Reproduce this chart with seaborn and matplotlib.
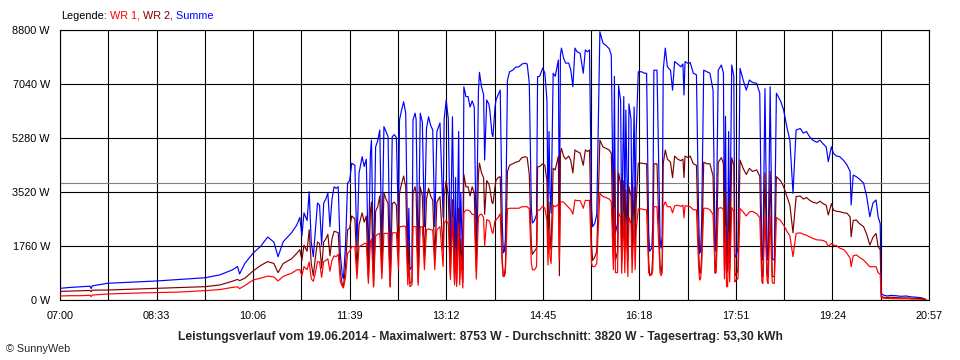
import numpy as np
import pandas as pd
import seaborn as sns
import matplotlib.pyplot as plt

# Minuten seit 07:00 und Leistung in W
minuten = [
    0, 10, 20, 29, 30, 31, 46, 67, 93, 116, 140, 154, 166, 171, 173, 178, 186, 193, 200, 206, 210, 215, 223, 228,
    231, 233, 235, 238, 240, 242, 244, 246, 248, 250, 252, 254, 256, 258, 260, 262, 264, 266, 268, 270, 272, 273,
    275, 277, 279, 281, 284, 286, 288, 291, 293, 295, 297, 299, 300, 302, 304, 306, 308, 310, 312, 314, 316, 318,
    320, 322, 324, 326, 327, 329, 331, 333, 335, 336, 337, 339, 340, 342, 343, 345, 347, 349, 351, 353, 355, 357,
    359, 361, 363, 366, 369, 370, 372, 374, 376, 378, 380, 381, 382, 384, 385, 386, 388, 389, 391, 393, 395, 397,
    399, 401, 403, 404, 406, 408, 409, 411, 413, 414, 416, 417, 419, 420, 422, 424,
    426, 427, 428, 429, 431, 433, 436, 439, 442, 445, 448, 450, 452, 454, 455, 457, 459, 460, 462, 465, 467, 469,
    470, 471, 472, 473, 475, 477, 480, 481, 482, 483, 485, 487, 490, 492, 494, 496, 498, 501, 504, 506, 508, 510,
    512, 513, 515, 517, 520, 523, 526, 529, 531, 533, 534, 535, 537, 538, 540, 541, 543, 544, 545, 547, 548, 550,
    551, 553, 554, 555, 557, 560, 563, 565, 567, 568, 570, 571, 572, 575, 578, 579, 580, 581, 583,
    585, 588, 590, 592, 595, 598, 600, 601, 602, 605, 607, 610, 613, 615, 616, 617, 618, 620, 623, 626, 629, 631,
    632, 634, 637, 639, 640, 641, 642, 643, 644, 645, 647, 649, 650, 651, 653, 655, 658, 661, 664, 667, 671, 674,
    676, 677, 679, 681, 682, 684, 686, 688, 690, 694, 697, 700, 703, 706, 709, 713, 716, 719, 722, 725, 729, 732,
    735, 738, 740, 743, 745, 748, 751, 755, 758, 761, 762, 764, 767, 770, 774, 777, 780, 783, 786, 788, 790, 791,
    793, 797, 800, 805, 810, 815, 820, 825, 830, 834,
]
summe = [
    390, 420, 440, 460, 380, 470, 555, 590, 630, 680, 735, 830, 990, 1100, 860, 1200, 1540, 1750, 2060, 1900, 1420, 1910, 2200, 2450,
    2700, 2100, 2850, 2600, 3540, 1900, 1420, 2300, 3170, 3100, 1800, 3170, 3300, 3490, 2400, 3300, 3700, 3650, 3700, 1500, 800, 700,
    1800, 3820, 3900, 4470, 4400, 1750, 4140, 4680, 4360, 4600, 1310, 4800, 5220, 880, 5000, 5200, 5550, 1640, 5660, 5500, 5330, 880,
    5330, 5400, 5300, 2400, 5880, 6200, 6470, 6100, 1310, 3000, 1000, 1100, 5880, 6100, 5900, 1090, 6100, 5800, 2400, 5600, 5980, 5700,
    5550, 2400, 5500, 5780, 2700, 5900, 6530, 5900, 1530, 5980, 1100, 4000, 1000, 5500, 1200, 3500, 990, 6960, 6640, 6640, 6300, 6500,
    6300, 1640, 6800, 7430, 6960, 6700, 4570, 6530, 6400, 6200, 5440, 5330, 6300, 6530, 6700, 6850,
    2500, 1550, 1600, 2000, 7180, 7450, 7500, 7600, 7610, 7700, 7730, 7700, 7080, 3000, 2520, 2600, 2800, 7290, 7300, 7570, 7400, 6530,
    2840, 5500, 3500, 2840, 7400, 7300, 7830, 2100, 8000, 8220, 7900, 7730, 7730, 7500, 6960, 8220, 8100, 8050, 7400, 8160, 8100, 8160,
    3000, 2400, 2500, 2800, 8753, 8380, 8300, 8200, 7990, 2400, 7300, 2200, 2500, 7000, 6500, 2180, 6640, 2500, 6200, 2180, 6400, 5900,
    2300, 6300, 2800, 5500, 7450, 7450, 7400, 7400, 2200, 1600, 1700, 2500, 7500, 7500, 2000, 1700, 2100, 7500, 8220,
    7610, 7500, 6850, 7780, 7700, 7610, 7700, 6690, 7780, 7720, 7750, 7400, 7350, 3000, 1530, 1600, 2500, 7500, 7450, 7400, 6850, 1600,
    2000, 7500, 7670, 7400, 1700, 6000, 1400, 1500, 5500, 1600, 7670, 7300, 1500, 1400, 1700, 7560, 7180, 6850, 7180, 7100, 7070, 6750,
    1400, 1310, 6900, 1500, 1310, 6960, 1350, 1310, 6750, 6500, 6200, 5660, 5220, 3490, 5550, 5600, 5450, 5500, 5330, 5220, 5150, 5220,
    5100, 5000, 4520, 5000, 4790, 4700, 4680, 4550, 4410, 4200, 3110, 4080, 4030, 3950, 3820, 3380, 2720, 3170, 3270, 2720, 2500, 230,
    170, 140, 160, 150, 130, 140, 110, 100, 80, 30,
]
wr2 = [
    290, 300, 310, 320, 280, 330, 335, 360, 390, 420, 445, 500, 620, 680, 640, 720, 955, 1130, 1260, 1200, 900, 1200, 1350, 1530,
    1650, 1300, 1800, 1600, 2300, 1200, 800, 1400, 1900, 1850, 1050, 1900, 2000, 2150, 1450, 2000, 2250, 2230, 2200, 900, 500, 450,
    1100, 2300, 2350, 2750, 2650, 1050, 2450, 2850, 2550, 2750, 750, 2900, 3200, 450, 2900, 3050, 3400, 950, 3500, 3300, 3150, 450,
    3150, 3200, 3100, 1400, 3500, 3800, 4050, 3700, 800, 1800, 550, 600, 3480, 3700, 3500, 600, 3700, 3400, 1400, 3300, 3650, 3400,
    3260, 1400, 3200, 3380, 1600, 3400, 3900, 3400, 850, 3280, 600, 2300, 550, 3000, 700, 2000, 590, 4100, 3700, 3700, 3400, 3700,
    3500, 950, 4100, 4470, 4150, 4000, 2800, 3900, 3800, 3650, 3200, 3150, 3700, 3910, 4000, 4030,
    1300, 770, 800, 1100, 4200, 4400, 4450, 4500, 4530, 4650, 4680, 4650, 4100, 1800, 1500, 1600, 1700, 4350, 4360, 4450, 4400, 3900,
    1700, 3200, 2100, 1640, 4300, 4250, 4700, 800, 4800, 4950, 4700, 4600, 4700, 4550, 4150, 4900, 4850, 4800, 4400, 4900, 4850, 4900,
    1800, 1300, 1400, 1600, 5220, 5000, 4950, 4900, 4790, 1400, 4300, 1300, 1600, 4150, 3800, 1300, 3900, 1600, 3600, 1300, 3700, 3400,
    1400, 3700, 1800, 3200, 4470, 4470, 4450, 4450, 1300, 800, 900, 1500, 4450, 4450, 1100, 900, 1200, 4450, 4900,
    4600, 4500, 4000, 4700, 4600, 4550, 4600, 4000, 4700, 4650, 4700, 4450, 4400, 1800, 880, 900, 1400, 4500, 4450, 4450, 4050, 900,
    1100, 4500, 4650, 4450, 1000, 3600, 900, 1000, 3300, 1000, 4650, 4400, 900, 800, 1000, 4570, 4300, 4100, 4300, 4200, 4250, 4050,
    800, 770, 4150, 850, 770, 4200, 780, 770, 4030, 3900, 3700, 3400, 3100, 2200, 3380, 3400, 3300, 3350, 3260, 3200, 3160, 3230,
    3150, 3100, 2780, 3150, 2940, 2900, 2890, 2850, 2840, 2720, 2070, 2600, 2620, 2500, 2400, 2150, 1800, 2050, 2180, 1750, 1650, 130,
    100, 90, 100, 90, 80, 80, 70, 60, 50, 20,
]
wr1 = [
    140, 150, 150, 165, 120, 170, 205, 230, 250, 270, 315, 350, 420, 440, 380, 480, 660, 720, 790, 760, 630, 780, 880, 990,
    1000, 800, 1100, 1000, 1250, 700, 620, 900, 1260, 1250, 750, 1260, 1300, 1350, 950, 1300, 1450, 1420, 1500, 600, 450, 400,
    750, 1530, 1600, 1750, 1750, 700, 1750, 1800, 1850, 1860, 550, 1900, 2000, 430, 2100, 2150, 2180, 700, 2180, 2180, 2180, 430,
    2200, 2200, 2200, 1000, 2400, 2400, 2420, 2400, 500, 1200, 450, 500, 2400, 2400, 2400, 490, 2400, 2400, 1000, 2300, 2330, 2300,
    2290, 1000, 2300, 2400, 1100, 2510, 2600, 2500, 680, 2700, 500, 1700, 450, 2500, 500, 1500, 400, 2860, 2940, 2940, 2900, 2800,
    2800, 690, 2700, 2780, 2810, 2700, 1770, 2630, 2600, 2550, 2240, 2180, 2600, 2620, 2700, 2820,
    1100, 780, 780, 900, 2980, 3000, 3000, 3000, 3000, 3050, 3050, 3050, 2980, 1200, 1000, 990, 1100, 2940, 2940, 3070, 3000, 2600,
    1150, 2300, 1400, 1200, 3100, 3050, 3130, 1310, 3200, 3210, 3200, 3130, 3030, 2950, 2810, 3270, 3250, 3250, 3000, 3260, 3250, 3260,
    1200, 1100, 1100, 1200, 3490, 3380, 3350, 3300, 3210, 1000, 3000, 900, 900, 2850, 2700, 880, 2740, 900, 2600, 770, 2700, 2500,
    900, 2600, 1000, 2300, 2980, 2980, 2950, 2950, 900, 825, 825, 1000, 3050, 3050, 900, 800, 900, 3050, 3210,
    3050, 3050, 2850, 3080, 3100, 3060, 3100, 2690, 3080, 3070, 3050, 2950, 2950, 1200, 660, 700, 1100, 3000, 3000, 2950, 2800, 880,
    900, 3000, 3020, 2950, 700, 2400, 450, 440, 2200, 600, 3020, 2900, 600, 660, 700, 2990, 2880, 2750, 2880, 2900, 2820, 2700,
    600, 550, 2750, 650, 550, 2760, 570, 550, 2700, 2600, 2450, 2260, 2100, 1420, 2180, 2200, 2150, 2120, 2070, 2020, 1970, 1965,
    1950, 1900, 1750, 1850, 1800, 1780, 1700, 1650, 1530, 1370, 1095, 1450, 1480, 1400, 1310, 1200, 1095, 1095, 1095, 900, 850, 80,
    70, 60, 60, 50, 50, 50, 40, 40, 30, 10,
]
assert len(minuten) == len(summe) == len(wr2) == len(wr1)

zeit_labels = ["07:00", "08:33", "10:06", "11:39", "13:12", "14:45", "16:18", "17:51", "19:24", "20:57"]
y_werte = [0, 1760, 3520, 5280, 7040, 8800]
durchschnitt = 3820
titel = ("Leistungsverlauf vom 19.06.2014 - Maximalwert: 8753 W - "
         "Durchschnitt: 3820 W - Tagesertrag: 53,30 kWh")

sns.set_style("white")
plt.rcParams['font.family'] = ['Liberation Sans', 'DejaVu Sans']

df = pd.DataFrame({"min": minuten, "Summe": summe, "WR 2": wr2, "WR 1": wr1})

fig = plt.figure(figsize=(9.6, 3.6), dpi=100)
ax = fig.add_axes([60 / 960, 59.7 / 360, 869 / 960, 270 / 360])

# Gitter
x_ticks = np.arange(0, 837.1, 46.5)
for xv in x_ticks:
    ax.axvline(xv, color="black", lw=0.8, zorder=1)
for yv in y_werte:
    ax.axhline(yv, color="black", lw=0.8, zorder=1)
ax.axhline(durchschnitt, color="#808080", lw=0.8, zorder=1)

sns.lineplot(data=df, x="min", y="Summe", color="#0000ff", lw=0.85, ax=ax, zorder=3)
sns.lineplot(data=df, x="min", y="WR 2", color="#800000", lw=0.85, ax=ax, zorder=4)
sns.lineplot(data=df, x="min", y="WR 1", color="#ff0000", lw=0.85, ax=ax, zorder=5)

ax.set_xlim(0, 837)
ax.set_ylim(0, 8800)
ax.set_xticks(x_ticks)
lbls = []
for i in range(len(x_ticks)):
    lbls.append(zeit_labels[i // 2] if i % 2 == 0 else "")
ax.set_xticklabels(lbls)
ax.set_yticks(y_werte)
ax.set_yticklabels([f"{v} W" for v in y_werte])
ax.set_xlabel("")
ax.set_ylabel("")
ax.tick_params(axis="both", direction="out", length=3.6, width=0.8, color="black",
               labelsize=7.8, labelcolor="black")
ax.tick_params(axis="x", pad=4.3)
ax.tick_params(axis="y", pad=3.6)
for s in ax.spines.values():
    s.set_color("black")
    s.set_linewidth(0.8)

fig.text(0.5, 1 - 337 / 360, titel, ha="center", va="center", fontsize=8.75, fontweight="bold")
fig.text(6 / 960, 1 - 349 / 360, "\u00a9 SunnyWeb", ha="left", va="center", fontsize=7.8)

# Legende als farbiger Text
renderer = fig.canvas.get_renderer()
x = 61 / 960
teile = [("Legende:", "black"), (" WR 1,", "#ff0000"), (" WR 2,", "#800000"), (" Summe", "#0000ff")]
for teil, farbe in teile:
    t = fig.text(x, 1 - 16 / 360, teil, color=farbe, fontsize=7.8, ha="left", va="center")
    bb = t.get_window_extent(renderer)
    x = bb.x1 / fig.bbox.width

fig.savefig("out.png", dpi=100)
